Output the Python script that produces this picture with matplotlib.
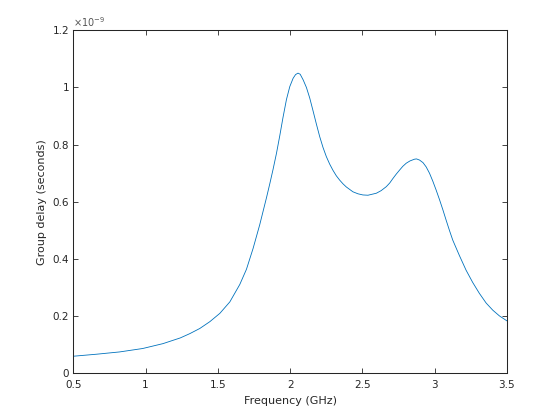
import matplotlib
matplotlib.use('Agg')
import numpy as np
import matplotlib.pyplot as plt
from matplotlib.ticker import FuncFormatter

# frequency (GHz) and group delay (x 1e-9 s)
freq_ghz = [0.5, 0.66, 0.82, 0.98, 1.12, 1.24, 1.306, 1.375, 1.445, 1.514,
            1.583, 1.652, 1.698, 1.744, 1.79, 1.837, 1.86, 1.882, 1.906, 1.929,
            1.951, 1.975, 1.998, 2.021, 2.038, 2.055, 2.07, 2.09, 2.113, 2.136,
            2.159, 2.182, 2.205, 2.228, 2.251, 2.274, 2.297, 2.32, 2.343, 2.366,
            2.389, 2.435, 2.47, 2.504, 2.539, 2.597, 2.63, 2.666, 2.69, 2.711,
            2.735, 2.758, 2.78, 2.804, 2.83, 2.861, 2.875, 2.896, 2.92, 2.942,
            2.965, 2.988, 3.011, 3.034, 3.057, 3.08, 3.103, 3.126, 3.172, 3.218,
            3.264, 3.31, 3.357, 3.403, 3.449, 3.5]
delay_e9 = [0.060, 0.067, 0.075, 0.087, 0.104, 0.124, 0.139, 0.157, 0.181, 0.210,
            0.250, 0.311, 0.364, 0.437, 0.520, 0.615, 0.664, 0.713, 0.770, 0.832,
            0.895, 0.958, 1.003, 1.032, 1.045, 1.050, 1.046, 1.027, 1.000, 0.963,
            0.918, 0.872, 0.828, 0.790, 0.758, 0.732, 0.710, 0.691, 0.676, 0.663,
            0.652, 0.635, 0.628, 0.624, 0.623, 0.630, 0.639, 0.653, 0.666, 0.681,
            0.697, 0.711, 0.724, 0.735, 0.743, 0.749, 0.750, 0.746, 0.737, 0.722,
            0.700, 0.672, 0.641, 0.608, 0.573, 0.536, 0.500, 0.466, 0.412, 0.361,
            0.318, 0.280, 0.246, 0.221, 0.201, 0.184]

x_ticks = [0.5, 1, 1.5, 2, 2.5, 3, 3.5]
y_ticks = [0, 0.2, 0.4, 0.6, 0.8, 1, 1.2]

text_col = '#262626'
plt.rcParams['font.family'] = ['DejaVu Sans']

fig = plt.figure(figsize=(5.6, 4.2), dpi=100)
ax = fig.add_axes([0.131, 0.111, 0.774, 0.817])

ax.plot(freq_ghz, delay_e9, color='#0072BD', linewidth=0.6)

ax.set_xlim(0.5, 3.5)
ax.set_ylim(0, 1.2)
ax.set_xticks(x_ticks)
ax.set_yticks(y_ticks)
fmt = FuncFormatter(lambda v, p: '%g' % v)
ax.xaxis.set_major_formatter(fmt)
ax.yaxis.set_major_formatter(fmt)

ax.tick_params(direction='in', length=3.6, width=0.6, colors=text_col,
               labelsize=7.5, top=True, right=True, pad=3)
ax.tick_params(axis='x', pad=5)
for s in ax.spines.values():
    s.set_linewidth(0.75)
    s.set_color(text_col)

ax.set_xlabel('Frequency (GHz)', fontsize=8, color=text_col, labelpad=4)
ax.set_ylabel('Group delay (seconds)', fontsize=8, color=text_col, labelpad=4)
ax.text(0.0, 1.004, r'$\times10^{-9}$', transform=ax.transAxes,
        fontsize=7, color='#555555', ha='left', va='bottom')

fig.savefig('out.png', dpi=100)
